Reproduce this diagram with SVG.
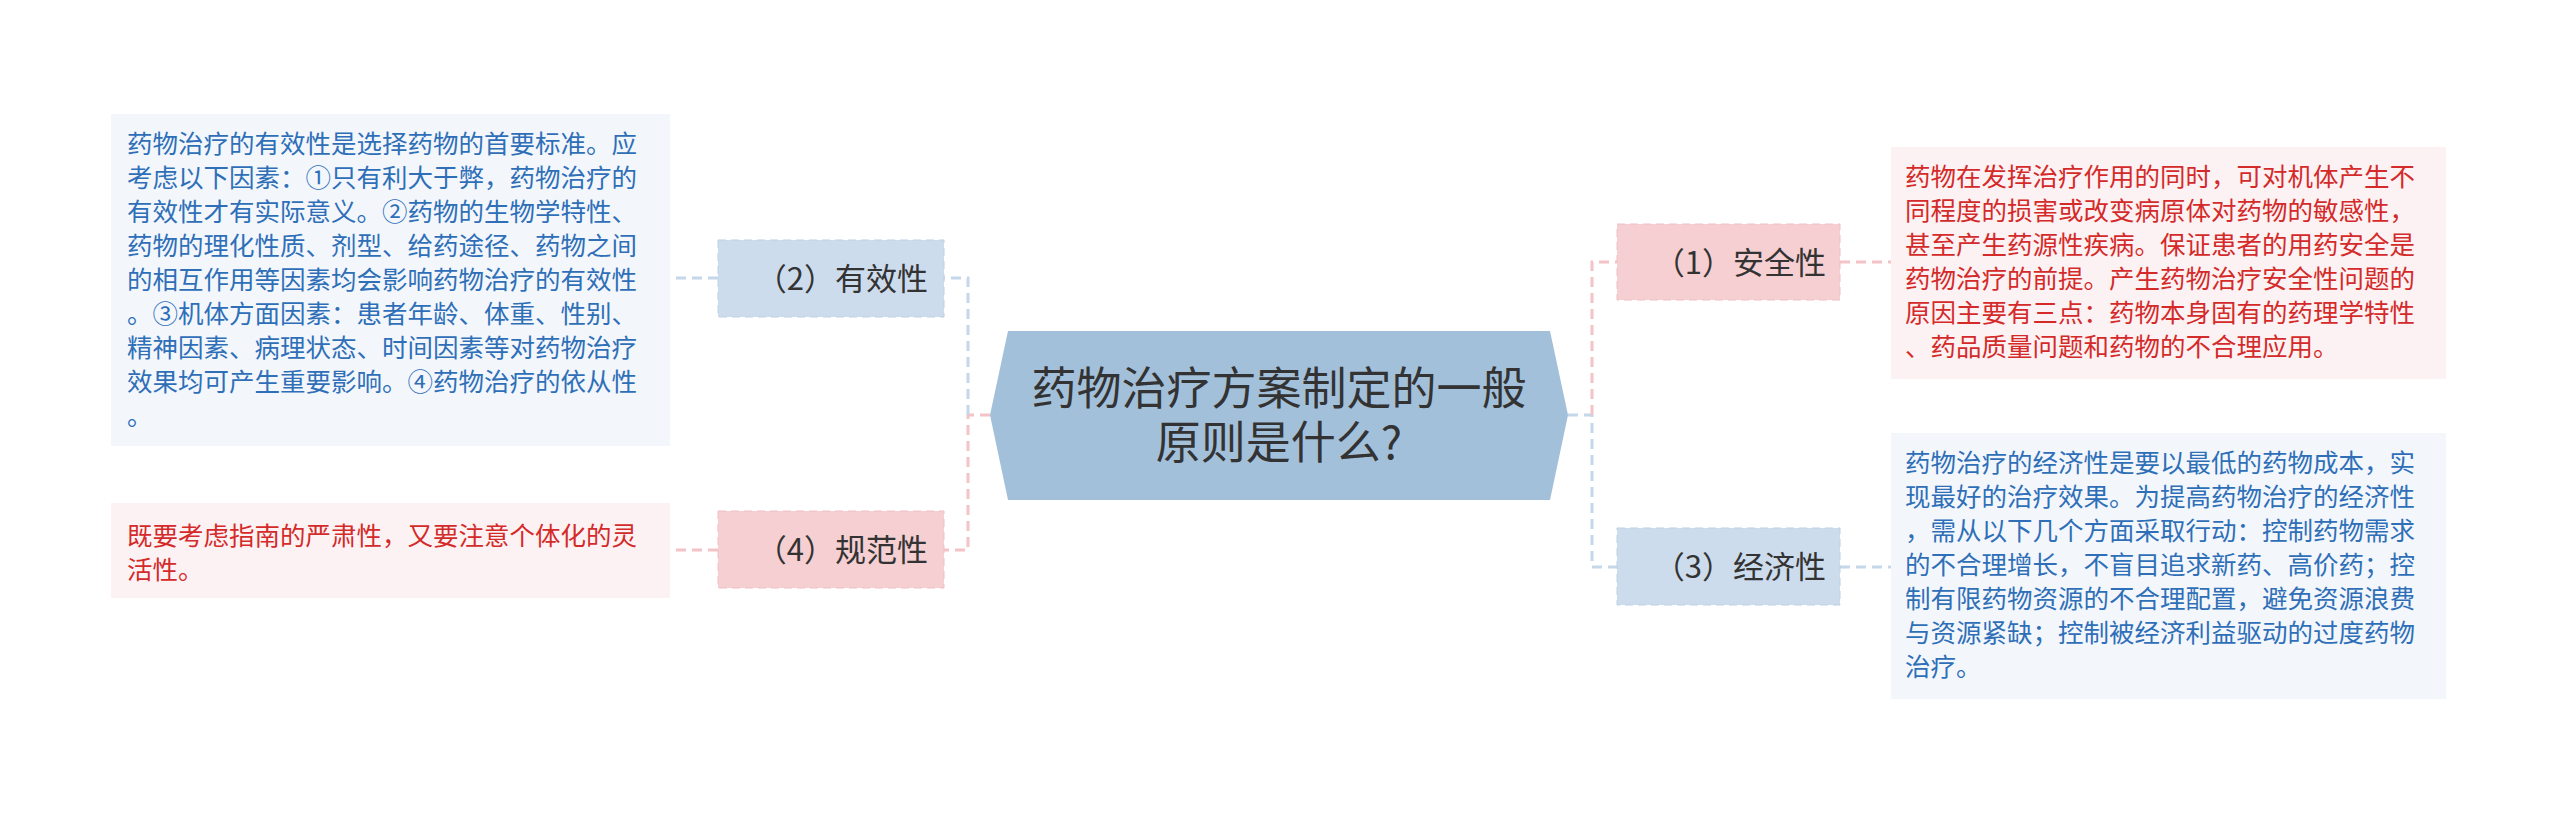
<svg xmlns="http://www.w3.org/2000/svg" width="2560" height="813" viewBox="0 0 2560 813">
<style>
text{font-family:"Noto Sans CJK SC","Noto Sans",sans-serif}
.d{font-size:25.5px}
.db{fill:#2f6fb8}.dr{fill:#d42a2a}
.n{font-size:31px;fill:#333}
.cb{stroke:#c5d8ea;stroke-width:3;fill:none;stroke-dasharray:10 6}
.cr{stroke:#f3c3c8;stroke-width:3;fill:none;stroke-dasharray:10 6}
</style>
<rect width="2560" height="813" fill="#fff"/>
<g id="connectors">
<path class="cr" d="M990 415H968V550H944"/>
<path class="cb" d="M968 415V278H944"/>
<path class="cb" d="M718 278H670"/>
<path class="cr" d="M718 550H670"/>
<path class="cb" d="M1568 415H1592V567H1617"/>
<path class="cr" d="M1592 415V262H1617"/>
<path class="cr" d="M1840 262H1891"/>
<path class="cb" d="M1840 567H1891"/>
</g>
<g id="center">
<polygon points="1008,331 1550,331 1568,415 1550,500 1008,500 990,415" fill="#a3c0da"/>
<text x="1279" y="405" font-size="45" fill="#333" text-anchor="middle">药物治疗方案制定的一般</text>
<text x="1279" y="459" font-size="45" fill="#333" text-anchor="middle">原则是什么?</text>
</g>
<g id="n2"><rect x="718" y="240" width="226" height="77" fill="#ccdcec" stroke="#bcd0e4" stroke-dasharray="8 5"/><text class="n" x="928" y="290" text-anchor="end">（2）有效性</text></g>
<g id="n4"><rect x="718" y="511" width="226" height="77" fill="#f5cfd2" stroke="#efbfc4" stroke-dasharray="8 5"/><text class="n" x="928" y="561" text-anchor="end">（4）规范性</text></g>
<g id="n1"><rect x="1617" y="224" width="223" height="76" fill="#f5cfd2" stroke="#efbfc4" stroke-dasharray="8 5"/><text class="n" x="1826" y="274" text-anchor="end">（1）安全性</text></g>
<g id="n3"><rect x="1617" y="528" width="223" height="77" fill="#ccdcec" stroke="#bcd0e4" stroke-dasharray="8 5"/><text class="n" x="1826" y="578" text-anchor="end">（3）经济性</text></g>
<g id="d2"><rect x="111" y="114" width="559" height="332" fill="#f3f7fc"/>
<text class="d db"><tspan x="127" y="153">药物治疗的有效性是选择药物的首要标准。应</tspan><tspan x="127" y="187">考虑以下因素：①只有利大于弊，药物治疗的</tspan><tspan x="127" y="221">有效性才有实际意义。②药物的生物学特性、</tspan><tspan x="127" y="255">药物的理化性质、剂型、给药途径、药物之间</tspan><tspan x="127" y="289">的相互作用等因素均会影响药物治疗的有效性</tspan><tspan x="127" y="323">。③机体方面因素：患者年龄、体重、性别、</tspan><tspan x="127" y="357">精神因素、病理状态、时间因素等对药物治疗</tspan><tspan x="127" y="391">效果均可产生重要影响。④药物治疗的依从性</tspan><tspan x="127" y="425">。</tspan></text></g>
<g id="d4"><rect x="111" y="503" width="559" height="95" fill="#fdf2f3"/>
<text class="d dr"><tspan x="127" y="545">既要考虑指南的严肃性，又要注意个体化的灵</tspan><tspan x="127" y="579">活性。</tspan></text></g>
<g id="d1"><rect x="1891" y="147" width="555" height="232" fill="#fdf2f3"/>
<text class="d dr"><tspan x="1905" y="186">药物在发挥治疗作用的同时，可对机体产生不</tspan><tspan x="1905" y="220">同程度的损害或改变病原体对药物的敏感性，</tspan><tspan x="1905" y="254">甚至产生药源性疾病。保证患者的用药安全是</tspan><tspan x="1905" y="288">药物治疗的前提。产生药物治疗安全性问题的</tspan><tspan x="1905" y="322">原因主要有三点：药物本身固有的药理学特性</tspan><tspan x="1905" y="356">、药品质量问题和药物的不合理应用。</tspan></text></g>
<g id="d3"><rect x="1891" y="433" width="555" height="266" fill="#f3f7fc"/>
<text class="d db"><tspan x="1905" y="472">药物治疗的经济性是要以最低的药物成本，实</tspan><tspan x="1905" y="506">现最好的治疗效果。为提高药物治疗的经济性</tspan><tspan x="1905" y="540">，需从以下几个方面采取行动：控制药物需求</tspan><tspan x="1905" y="574">的不合理增长，不盲目追求新药、高价药；控</tspan><tspan x="1905" y="608">制有限药物资源的不合理配置，避免资源浪费</tspan><tspan x="1905" y="642">与资源紧缺；控制被经济利益驱动的过度药物</tspan><tspan x="1905" y="676">治疗。</tspan></text></g>
</svg>
